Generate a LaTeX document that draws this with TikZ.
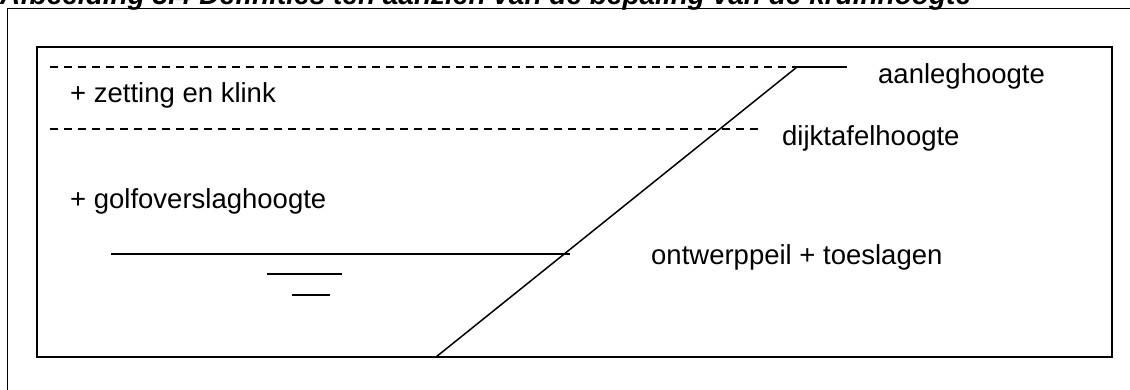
\documentclass[tikz,border=0pt]{standalone}
\usepackage{fontspec}
\setmainfont{Liberation Sans}
\begin{document}
\begin{tikzpicture}[x=1pt,y=-1pt,
  lbl/.style={anchor=base west,inner sep=0pt,font=\fontsize{27.5}{33}\selectfont},
  ttl/.style={anchor=base west,inner sep=0pt,font=\fontsize{28}{33}\selectfont\bfseries\itshape},
  frame/.style={line width=1pt},
  boxline/.style={line width=2pt},
  level/.style={line width=1.3pt,dash pattern=on 8pt off 6pt},
  solidline/.style={line width=1.5pt}]
\useasboundingbox (0,0) rectangle (1130,389);
\begin{scope}
\clip (0,0) rectangle (1130,389);
\node[ttl] (title) at (0,4) {Afbeelding 3.4 Definities ten aanzien van de bepaling van de kruinhoogte};
\end{scope}
% outer frame
\draw[frame] (7,392) -- (7,8) -- (1133,8);
% inner box
\draw[boxline] (37,47) rectangle (1112,357);
% coordinates
\coordinate (toe) at (436,357);
\coordinate (crest) at (797,67);
% dashed levels
\coordinate (d1a) at (50,67);
\coordinate (d2a) at (50,129);
\coordinate (d2b) at (758,129);
\draw[level] (d1a) -- (crest);
\draw[level] (d2a) -- (d2b);
% crest top
\coordinate (crestend) at (847,67);
\draw[solidline] (crest) -- (crestend);
% slope
\draw[solidline] (toe) -- (crest);
% water level
\coordinate (wa) at (111,254);
\coordinate (wb) at (570,254);
\draw[solidline] (wa) -- (wb);
\coordinate (s1a) at (267,274);
\coordinate (s1b) at (342,274);
\coordinate (s2a) at (292,295);
\coordinate (s2b) at (330,295);
\draw[solidline] (s1a) -- (s1b);
\draw[solidline] (s2a) -- (s2b);
% labels
\node[lbl] (zetting) at (70,102) {+ zetting en klink};
\node[lbl] (aanleg) at (878,83) {aanleghoogte};
\node[lbl] (dijktafel) at (782,145) {dijktafelhoogte};
\node[lbl] (golf) at (70,208) {+ golfoverslaghoogte};
\node[lbl] (ontwerp) at (651,264) {ontwerppeil + toeslagen};
\end{tikzpicture}
\end{document}
